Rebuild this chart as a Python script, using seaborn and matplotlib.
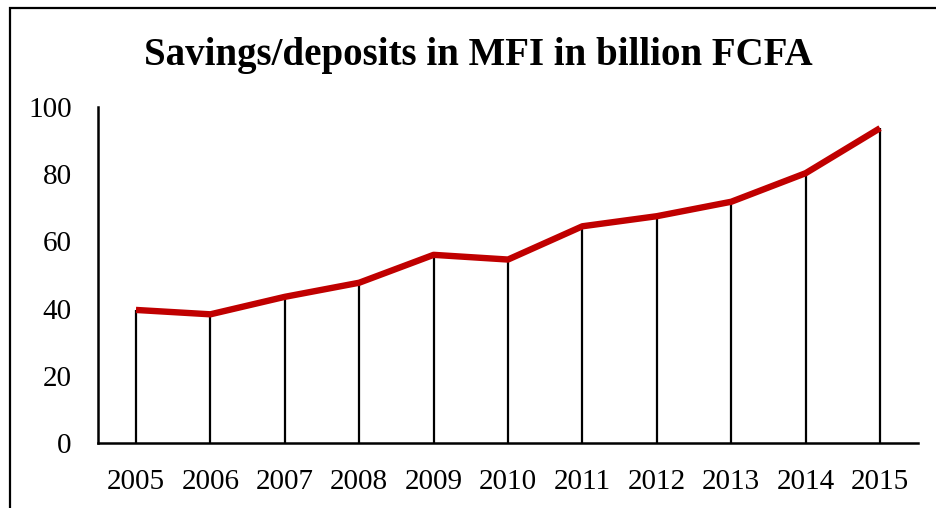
import matplotlib
matplotlib.use("Agg")
import matplotlib.pyplot as plt
import matplotlib.patches as mpatches
import seaborn as sns
import pandas as pd

years = ["2005", "2006", "2007", "2008", "2009", "2010", "2011", "2012", "2013", "2014", "2015"]
savings = [39.6, 38.3, 43.5, 47.7, 56.0, 54.6, 64.5, 67.5, 71.8, 80.3, 93.7]
y_ticks = [0, 20, 40, 60, 80, 100]
title = "Savings/deposits in MFI in billion FCFA"

sns.set_style("white")
plt.rcParams["font.family"] = ["Liberation Serif", "DejaVu Serif"]
plt.rcParams["text.color"] = "black"

df = pd.DataFrame({"pos": range(len(years)), "value": savings})

fig = plt.figure(figsize=(9.36, 5.08), dpi=100)
ax = fig.add_axes([98 / 936, 1 - 443 / 508, (918 - 98) / 936, (443 - 107) / 508])

# drop lines from each point to the baseline
ax.vlines(df["pos"], 0, df["value"], colors="black", linewidth=1.6, zorder=2)
sns.lineplot(data=df, x="pos", y="value", ax=ax, color="#C00000",
             linewidth=4.6, zorder=3, solid_capstyle="butt")

ax.set_xlim(-0.51, len(years) - 1 + 0.51)
ax.set_ylim(0, 100)
ax.set_xticks(range(len(years)))
ax.set_xticklabels(years)
ax.set_yticks(y_ticks)
ax.set_xlabel("")
ax.set_ylabel("")
ax.tick_params(axis="both", length=0, labelsize=21, colors="black")
ax.tick_params(axis="x", pad=19)
ax.tick_params(axis="y", pad=19)

for side in ("top", "right"):
    ax.spines[side].set_visible(False)
for side in ("left", "bottom"):
    ax.spines[side].set_color("black")
    ax.spines[side].set_linewidth(1.8)

fig.text(478 / 936, 1 - 56 / 508, title, ha="center", va="center",
         fontsize=28, fontweight="bold", color="black")

# outer frame of the chart area
frame = mpatches.Rectangle((10 / 936, -0.5), 2.0, 0.5 + (1 - 8 / 508),
                           transform=fig.transFigure, fill=False,
                           edgecolor="black", linewidth=1.6, clip_on=False)
fig.patches.append(frame)

fig.savefig("out.png", dpi=100, facecolor="white")
